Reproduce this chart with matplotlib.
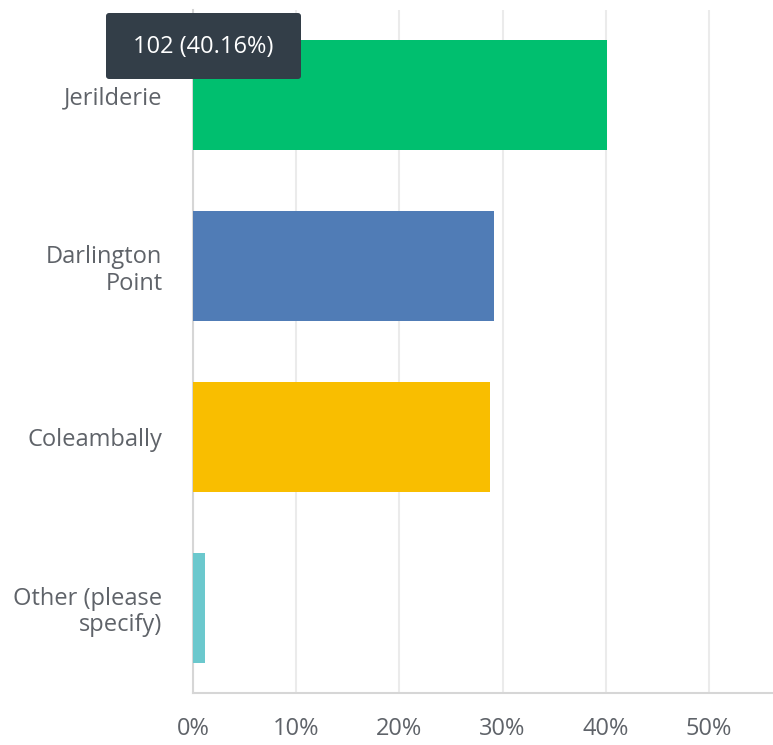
import matplotlib.pyplot as plt
from matplotlib.patches import FancyBboxPatch

# Survey answers and their share of respondents (%)
answers = ['Jerilderie', 'Darlington\nPoint', 'Coleambally', 'Other (please\nspecify)']
percents = [40.16, 29.13, 28.74, 1.18]
colors = ['#00BF6F', '#507CB6', '#F9BE00', '#6BC8CD']
xticks = [0, 10, 20, 30, 40, 50]
tooltip_text = '102 (40.16%)'

TEXT = '#5f6369'
GRID = '#ebebeb'
AXIS = '#d6d6d6'

plt.rcParams['font.family'] = ['Open Sans', 'DejaVu Sans']

fig = plt.figure(figsize=(7.73, 7.45), dpi=100)
ax = fig.add_axes([0.2497, 0.0698, 0.7503, 0.9168])

ypos = list(range(len(answers)))
ax.barh(ypos, percents, height=0.645, color=colors, zorder=3)

ax.set_ylim(len(answers) - 0.5, -0.5)
ax.set_xlim(0, 56.2)

ax.set_xticks(xticks)
ax.set_xticklabels([str(t) + '%' for t in xticks], color=TEXT, fontsize=17)
ax.set_yticks(ypos)
ax.set_yticklabels(answers, color=TEXT, fontsize=17, ha='right', linespacing=1.15)
ax.tick_params(axis='x', length=0, pad=17)
ax.tick_params(axis='y', length=0, pad=22)

ax.grid(axis='x', color=GRID, linewidth=1.5, zorder=0)
for s in ['top', 'right']:
    ax.spines[s].set_visible(False)
ax.spines['left'].set_color(AXIS)
ax.spines['bottom'].set_color(AXIS)
ax.spines['left'].set_linewidth(1.5)
ax.spines['bottom'].set_linewidth(1.5)

# hover tooltip
box = FancyBboxPatch((106 / 773, 1 - 79 / 745), 195 / 773, 66 / 745,
                     boxstyle='round,pad=0,rounding_size=0.004',
                     transform=fig.transFigure, facecolor='#333e48',
                     edgecolor='none', zorder=10)
fig.patches.append(box)
fig.text(203 / 773, 1 - 47 / 745, tooltip_text, color='white', fontsize=17,
         ha='center', va='center', zorder=11)

plt.savefig('out.png', dpi=100)
